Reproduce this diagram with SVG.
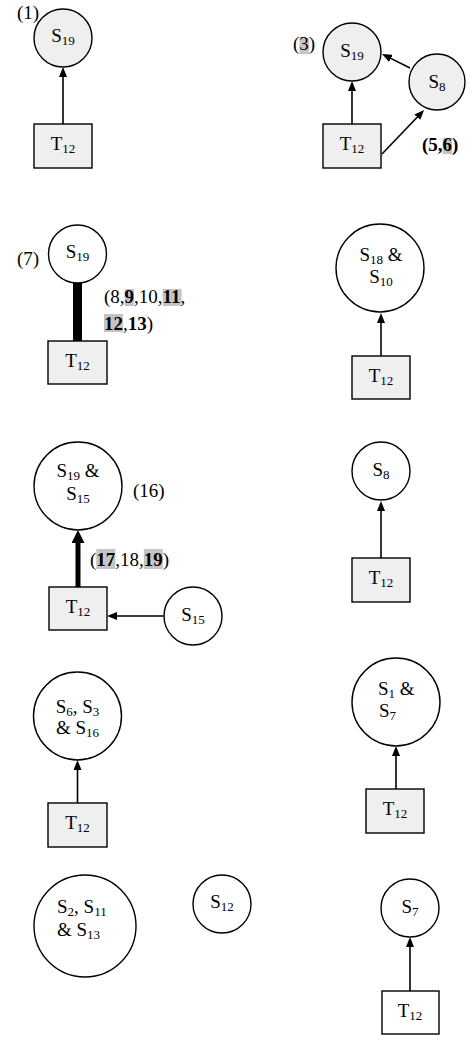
<svg xmlns="http://www.w3.org/2000/svg" width="474" height="1041" viewBox="0 0 474 1041">
<style>
text{font-family:"Liberation Serif","Times New Roman",serif;font-size:19px;fill:#000}
.sub{font-size:13px}
.b{font-weight:bold}
.g{fill:#efefef;stroke:#000;stroke-width:1.4}
.w{fill:#fff;stroke:#000;stroke-width:1.4}
.e{stroke:#000;stroke-width:1.6;fill:none}
.hl{fill:#c4c4c4}
</style>
<defs>
<marker id="ah" viewBox="0 0 10 8" markerWidth="10" markerHeight="8" refX="4" refY="4" orient="auto" markerUnits="userSpaceOnUse"><path d="M0,0 L10,4 L0,8 z" fill="#000"/></marker>
<marker id="ahb" viewBox="0 0 13 13" markerWidth="13" markerHeight="13" refX="6" refY="6.5" orient="auto" markerUnits="userSpaceOnUse"><path d="M0,0 L13,6.5 L0,13 z" fill="#000"/></marker>
</defs>
<rect width="474" height="1041" fill="#fff"/>

<g id="connectors">
<line class="e" x1="63" y1="124" x2="63" y2="73" marker-end="url(#ah)"/>
<line class="e" x1="352" y1="124" x2="352" y2="87" marker-end="url(#ah)"/>
<line class="e" x1="410" y1="68" x2="387.3" y2="56.6" marker-end="url(#ah)"/>
<line class="e" x1="382" y1="154" x2="420" y2="114.3" marker-end="url(#ah)"/>
<line x1="77.5" y1="283" x2="77.5" y2="341" stroke="#000" stroke-width="9"/>
<line class="e" x1="381" y1="356" x2="381" y2="319" marker-end="url(#ah)"/>
<line x1="78" y1="587" x2="78" y2="537" stroke="#000" stroke-width="5" marker-end="url(#ahb)"/>
<line class="e" x1="164" y1="616" x2="113" y2="616" marker-end="url(#ah)"/>
<line class="e" x1="381" y1="558" x2="381" y2="507" marker-end="url(#ah)"/>
<line class="e" x1="77.5" y1="803" x2="77.5" y2="766" marker-end="url(#ah)"/>
<line class="e" x1="396" y1="789" x2="396" y2="752" marker-end="url(#ah)"/>
<line class="e" x1="410" y1="991" x2="410" y2="943" marker-end="url(#ah)"/>
</g>

<g id="labels">
<text x="17" y="19">(1)</text>
<rect class="hl" x="299.5" y="38" width="9.5" height="16"/>
<text x="293" y="50">(3)</text>
<rect class="hl" x="442.6" y="138" width="9.5" height="16"/>
<text class="b" x="422" y="151">(5,6)</text>
<text x="17" y="265">(7)</text>
<rect class="hl" x="124.6" y="289" width="9.5" height="17"/>
<rect class="hl" x="162.6" y="289" width="19" height="17"/>
<text x="104" y="303">(8,<tspan class="b">9</tspan>,10,<tspan class="b">11</tspan>,</text>
<rect class="hl" x="104" y="314" width="19" height="18"/>
<text x="104" y="330"><tspan class="b">12</tspan>,<tspan class="b">13</tspan>)</text>
<text x="133" y="497">(16)</text>
<rect class="hl" x="96.3" y="549" width="19" height="20"/>
<rect class="hl" x="143.8" y="549" width="19" height="20"/>
<text x="90" y="566">(<tspan class="b">17</tspan>,18,<tspan class="b">19</tspan>)</text>
</g>

<g id="p1-s19"><circle class="g" cx="63" cy="38" r="29"/><text x="63" y="42" text-anchor="middle">S<tspan class="sub" dy="3">19</tspan></text></g>
<g id="p1-t12"><rect class="g" x="34" y="124" width="58" height="44"/><text x="63" y="150" text-anchor="middle">T<tspan class="sub" dy="3">12</tspan></text></g>

<g id="p3-s19"><circle class="g" cx="352" cy="52" r="29"/><text x="352" y="57" text-anchor="middle">S<tspan class="sub" dy="3">19</tspan></text></g>
<g id="p3-s8"><circle class="g" cx="437" cy="82" r="28"/><text x="437" y="88" text-anchor="middle">S<tspan class="sub" dy="3">8</tspan></text></g>
<g id="p3-t12"><rect class="g" x="323" y="124" width="58" height="44"/><text x="352" y="150" text-anchor="middle">T<tspan class="sub" dy="3">12</tspan></text></g>

<g id="p7-s19"><circle class="w" cx="77.5" cy="254" r="29"/><text x="77.5" y="258" text-anchor="middle">S<tspan class="sub" dy="3">19</tspan></text></g>
<g id="p7-t12"><rect class="g" x="48" y="341" width="59" height="43"/><text x="77.5" y="367" text-anchor="middle">T<tspan class="sub" dy="3">12</tspan></text></g>

<g id="p2-s18s10"><circle class="w" cx="380" cy="268" r="44"/><text x="381" y="261" text-anchor="middle">S<tspan class="sub" dy="3">18</tspan><tspan dy="-3"> &amp;</tspan></text><text x="381" y="283" text-anchor="middle">S<tspan class="sub" dy="3">10</tspan></text></g>
<g id="p2-t12"><rect class="g" x="352" y="356" width="58" height="43"/><text x="381" y="382" text-anchor="middle">T<tspan class="sub" dy="3">12</tspan></text></g>

<g id="p16-s19s15"><circle class="w" cx="78" cy="486" r="44"/><text x="78" y="477" text-anchor="middle">S<tspan class="sub" dy="3">19</tspan><tspan dy="-3"> &amp;</tspan></text><text x="78" y="500" text-anchor="middle">S<tspan class="sub" dy="3">15</tspan></text></g>
<g id="p16-t12"><rect class="g" x="49" y="587" width="58" height="43"/><text x="78" y="613" text-anchor="middle">T<tspan class="sub" dy="3">12</tspan></text></g>
<g id="p16-s15"><circle class="w" cx="193" cy="616" r="29"/><text x="193" y="621" text-anchor="middle">S<tspan class="sub" dy="3">15</tspan></text></g>

<g id="p4-s8"><circle class="w" cx="381" cy="471" r="29"/><text x="381" y="476" text-anchor="middle">S<tspan class="sub" dy="3">8</tspan></text></g>
<g id="p4-t12"><rect class="g" x="352" y="558" width="58" height="44"/><text x="381" y="584" text-anchor="middle">T<tspan class="sub" dy="3">12</tspan></text></g>

<g id="p5-s6s3s16"><circle class="w" cx="77.5" cy="716" r="44"/><text x="77.5" y="713" text-anchor="middle">S<tspan class="sub" dy="3">6</tspan><tspan dy="-3">, S</tspan><tspan class="sub" dy="3">3</tspan></text><text x="77.5" y="734" text-anchor="middle">&amp; S<tspan class="sub" dy="3">16</tspan></text></g>
<g id="p5-t12"><rect class="g" x="48" y="803" width="59" height="44"/><text x="77.5" y="829" text-anchor="middle">T<tspan class="sub" dy="3">12</tspan></text></g>

<g id="p6-s1s7"><circle class="w" cx="396" cy="702" r="44"/><text x="378" y="695">S<tspan class="sub" dy="3">1</tspan><tspan dy="-3"> &amp;</tspan></text><text x="379" y="717">S<tspan class="sub" dy="3">7</tspan></text></g>
<g id="p6-t12"><rect class="g" x="366" y="789" width="58" height="44"/><text x="395" y="815" text-anchor="middle">T<tspan class="sub" dy="3">12</tspan></text></g>

<g id="p8-s2s11s13"><circle class="w" cx="85" cy="926" r="51"/><text x="57" y="913">S<tspan class="sub" dy="3">2</tspan><tspan dy="-3">, S</tspan><tspan class="sub" dy="3">11</tspan></text><text x="57" y="936">&amp; S<tspan class="sub" dy="3">13</tspan></text></g>
<g id="p8-s12"><circle class="w" cx="222" cy="904" r="29"/><text x="222" y="908" text-anchor="middle">S<tspan class="sub" dy="3">12</tspan></text></g>

<g id="p9-s7"><circle class="w" cx="410" cy="908" r="29"/><text x="410" y="913" text-anchor="middle">S<tspan class="sub" dy="3">7</tspan></text></g>
<g id="p9-t12"><rect class="w" x="382" y="991" width="57" height="43"/><text x="410" y="1017" text-anchor="middle">T<tspan class="sub" dy="3">12</tspan></text></g>
</svg>
